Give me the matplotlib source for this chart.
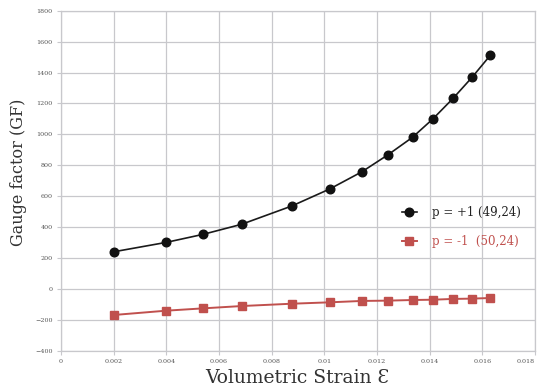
import matplotlib
matplotlib.use("Agg")
import matplotlib.pyplot as plt

strain = [0.0020, 0.0040, 0.0054, 0.00686, 0.00876, 0.0102, 0.01143, 0.01242,
          0.01335, 0.01413, 0.01489, 0.01561, 0.01631]
gf_pos = [240, 301, 353, 418, 536, 646, 758, 868, 981, 1101, 1233, 1369, 1513]
gf_neg = [-169, -141, -126, -111, -96, -87, -78, -76, -72, -70, -65, -63, -59]
label_pos = "p = +1 (49,24)"
label_neg = "p = -1  (50,24)"
xticks = [0, 0.002, 0.004, 0.006, 0.008, 0.01, 0.012, 0.014, 0.016, 0.018]
xticklabels = ["0", "0.002", "0.004", "0.006", "0.008", "0.01", "0.012", "0.014", "0.016", "0.018"]
yticks = list(range(-400, 1801, 200))

serif = ["DejaVu Serif", "Liberation Serif"]

fig = plt.figure(figsize=(5.42, 3.92), dpi=100)
ax = fig.add_axes([61/542, 1-350.7/392, (535-61)/542, (350.7-10.7)/392])

red = "#c0504d"
ax.plot(strain, gf_pos, color="#1a1a1a", lw=1.2, marker="o", ms=6.2,
        mfc="#111111", mec="#111111", label=label_pos, zorder=3)
ax.plot(strain, gf_neg, color=red, lw=1.4, marker="s", ms=5.8,
        mfc=red, mec=red, label=label_neg, zorder=3)

ax.set_xlim(0, 0.018)
ax.set_ylim(-400, 1800)
ax.set_xticks(xticks)
ax.set_xticklabels(xticklabels)
ax.set_yticks(yticks)
ax.grid(True, color="#c8c8cc", lw=0.9)
ax.set_axisbelow(True)
for s in ax.spines.values():
    s.set_color("#c8c8cc")
    s.set_linewidth(0.9)
ax.tick_params(axis="both", length=3, color="#c8c8cc", labelsize=4.6,
               labelcolor="#555555", pad=3)
for t in ax.get_xticklabels() + ax.get_yticklabels():
    t.set_family(serif)
ax.get_xticklabels()[-1].set_horizontalalignment("right")

fig.text(19/542, 1-172/392, "Gauge factor (GF)", rotation=90, ha="center",
         va="center", fontsize=11.5, family=serif, color="#333333")
fig.text(297/542, 1-378/392, "Volumetric Strain Ɛ", ha="center",
         va="center", fontsize=13.5, family=serif, color="#333333")

leg = ax.legend(loc="center left", bbox_to_anchor=(391/542, 1-227/392),
                bbox_transform=fig.transFigure, frameon=False,
                prop={"family": serif, "size": 8.5}, handlelength=1.3,
                labelspacing=1.4, handletextpad=1.3)
leg.get_texts()[0].set_color("#222222")
leg.get_texts()[1].set_color(red)

fig.savefig("out.png", dpi=100)
